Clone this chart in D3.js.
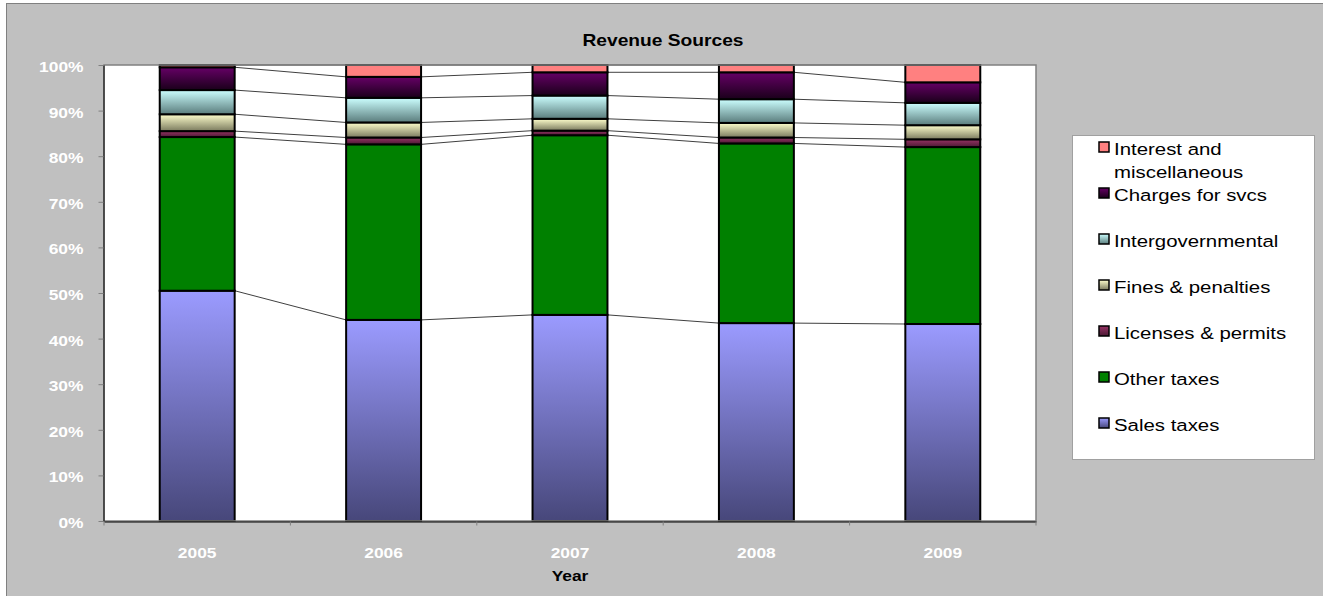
<!DOCTYPE html>
<html>
<head>
<meta charset="utf-8">
<script src="https://cdn.jsdelivr.net/npm/d3@7"></script>
<style>
  html, body { margin: 0; padding: 0; background: #ffffff; }
  svg { display: block; }
  text { font-family: "Liberation Sans", Arial, sans-serif; }
</style>
</head>
<body>
<svg id="chart" width="1323" height="596"></svg>
<script>
// Revenue share by source, percent of total per year
const years = ["2005", "2006", "2007", "2008", "2009"];
const salesTaxes   = [50.5, 44.1, 45.2, 43.4, 43.2];
const otherTaxes   = [33.7, 38.5, 39.4, 39.4, 38.8];
const licenses     = [1.3, 1.5, 1.0, 1.3, 1.7];
const fines        = [3.7, 3.3, 2.6, 3.2, 3.1];
const intergov     = [5.3, 5.4, 5.1, 5.2, 4.9];
const charges      = [5.0, 4.6, 5.1, 5.9, 4.5];
const interestMisc = [0.5, 2.6, 1.6, 1.6, 3.8];

const seriesNames = ["Sales taxes", "Other taxes", "Licenses & permits", "Fines & penalties",
                     "Intergovernmental", "Charges for svcs", "Interest and miscellaneous"];
const seriesValues = [salesTaxes, otherTaxes, licenses, fines, intergov, charges, interestMisc];
const yTicks = [0, 0.1, 0.2, 0.3, 0.4, 0.5, 0.6, 0.7, 0.8, 0.9, 1.0];

// Fill styles: [top colour, bottom colour] (same colour = solid)
const fills = [
  ["#9b9bff", "#47477a"],
  ["#008000", "#008000"],
  ["#993366", "#4a1a33"],
  ["#ffffcc", "#7a7a5e"],
  ["#ccffff", "#5a7c7c"],
  ["#660066", "#1a001a"],
  ["#ff8080", "#ff8080"]
];

const rows = years.map((yr, i) => {
  const r = { year: yr };
  seriesNames.forEach((n, k) => r[n] = seriesValues[k][i]);
  return r;
});

const svg = d3.select("#chart");
const W = 1323, H = 596;
const SX = 1.2; // horizontal text stretch
const plot = { left: 104, right: 1036, top: 65, bottom: 521 };

// Gradients
const defs = svg.append("defs");
fills.forEach((f, k) => {
  const g = defs.append("linearGradient")
    .attr("id", "grad" + k)
    .attr("x1", 0).attr("y1", 0).attr("x2", 0).attr("y2", 1);
  g.append("stop").attr("offset", "0%").attr("stop-color", f[0]);
  g.append("stop").attr("offset", "100%").attr("stop-color", f[1]);
});

// Chart area
svg.append("rect")
  .attr("x", 6.5).attr("y", 3.5).attr("width", W + 10).attr("height", H + 10)
  .attr("fill", "#c0c0c0").attr("stroke", "#808080").attr("stroke-width", 1);

// Stretched text helper
function stext(parent, x, y, str, opts) {
  return parent.append("text")
    .attr("transform", `translate(${x},${y}) scale(${SX},1)`)
    .attr("text-anchor", opts.anchor || "start")
    .attr("font-size", opts.size)
    .attr("font-weight", opts.weight || "normal")
    .attr("fill", opts.fill || "#000")
    .text(str);
}

// Title
stext(svg, 663, 46, "Revenue Sources", { anchor: "middle", size: 16, weight: "bold" });

// Scales
const x = d3.scaleBand()
  .domain(years)
  .range([plot.left, plot.right])
  .paddingInner(0.598)
  .paddingOuter(0.299);
const y = d3.scaleLinear().domain([0, 1]).range([plot.bottom, plot.top]);

const stack = d3.stack().keys(seriesNames).offset(d3.stackOffsetExpand);
const stacked = stack(rows);

// Plot area background
svg.append("rect")
  .attr("x", plot.left).attr("y", plot.top)
  .attr("width", plot.right - plot.left).attr("height", plot.bottom - plot.top)
  .attr("fill", "#ffffff");

// Series lines joining segment tops between neighbouring bars
const bw = x.bandwidth();
const lineG = svg.append("g");
stacked.forEach(s => {
  for (let i = 0; i < s.length - 1; i++) {
    lineG.append("line")
      .attr("x1", x(years[i]) + bw).attr("y1", y(s[i][1]))
      .attr("x2", x(years[i + 1])).attr("y2", y(s[i + 1][1]))
      .attr("stroke", "#404040").attr("stroke-width", 1);
  }
});

// Bars
const barG = svg.append("g");
stacked.forEach((s, k) => {
  barG.append("g").selectAll("rect")
    .data(s)
    .join("rect")
    .attr("x", d => x(d.data.year))
    .attr("y", d => y(d[1]))
    .attr("width", bw)
    .attr("height", d => y(d[0]) - y(d[1]))
    .attr("fill", `url(#grad${k})`)
    .attr("stroke", "#000")
    .attr("stroke-width", 2);
});

// Plot border (top/right)
svg.append("rect")
  .attr("x", plot.left).attr("y", plot.top)
  .attr("width", plot.right - plot.left).attr("height", plot.bottom - plot.top)
  .attr("fill", "none").attr("stroke", "#808080").attr("stroke-width", 1.5);

// Y axis
const yAxis = svg.append("g")
  .attr("transform", `translate(${plot.left - 0.5},0)`)
  .call(d3.axisLeft(y).tickValues(yTicks).tickFormat(d3.format(".0%")).tickSize(5).tickSizeOuter(0));
yAxis.select(".domain").attr("stroke", "#000");
yAxis.selectAll(".tick line").attr("stroke", "#808080");
yAxis.selectAll(".tick text")
  .attr("x", null).attr("dy", null)
  .attr("transform", `translate(-20,6.5) scale(${SX},1)`)
  .attr("fill", "#ffffff")
  .attr("font-size", 14.5)
  .attr("font-weight", "bold")
  .attr("font-family", "Liberation Sans, Arial, sans-serif");

// X axis
const xAxis = svg.append("g")
  .attr("transform", `translate(0,${plot.bottom + 0.5})`)
  .call(d3.axisBottom(x).tickSize(0).tickSizeOuter(0));
xAxis.select(".domain").attr("stroke", "#000");
xAxis.selectAll(".tick text")
  .attr("y", null).attr("dy", null)
  .attr("transform", `translate(0,36) scale(${SX},1)`)
  .attr("fill", "#ffffff")
  .attr("font-size", 14.5)
  .attr("font-weight", "bold")
  .attr("font-family", "Liberation Sans, Arial, sans-serif");
// Category boundary ticks
const step = x.step();
const gap = (step - bw) / 2;
xAxis.append("g").selectAll("line")
  .data(years.concat(["end"]))
  .join("line")
  .attr("x1", (d, i) => i < years.length ? x(d) - gap : x(years[years.length - 1]) + bw + gap)
  .attr("x2", (d, i) => i < years.length ? x(d) - gap : x(years[years.length - 1]) + bw + gap)
  .attr("y1", 0).attr("y2", 4)
  .attr("stroke", "#808080");

// Axis title
stext(svg, (plot.left + plot.right) / 2, 581, "Year", { anchor: "middle", size: 14.5, weight: "bold" });

// Legend
const legend = svg.append("g");
legend.append("rect")
  .attr("x", 1072.5).attr("y", 135.5).attr("width", 242).attr("height", 324)
  .attr("fill", "#ffffff").attr("stroke", "#a0a0a0").attr("stroke-width", 1);

const legendOrder = seriesNames.map((n, k) => k).reverse();
legendOrder.forEach((k, idx) => {
  const base = 155 + idx * 46;
  legend.append("rect")
    .attr("x", 1099).attr("y", base - 13)
    .attr("width", 10).attr("height", 10)
    .attr("fill", `url(#grad${k})`)
    .attr("stroke", "#000").attr("stroke-width", 1.5);
  const name = seriesNames[k];
  if (name === "Interest and miscellaneous") {
    stext(legend, 1114, base, "Interest and", { size: 17 });
    stext(legend, 1114, base + 22.7, "miscellaneous", { size: 17 });
  } else {
    stext(legend, 1114, base, name, { size: 17 });
  }
});
</script>
</body>
</html>
